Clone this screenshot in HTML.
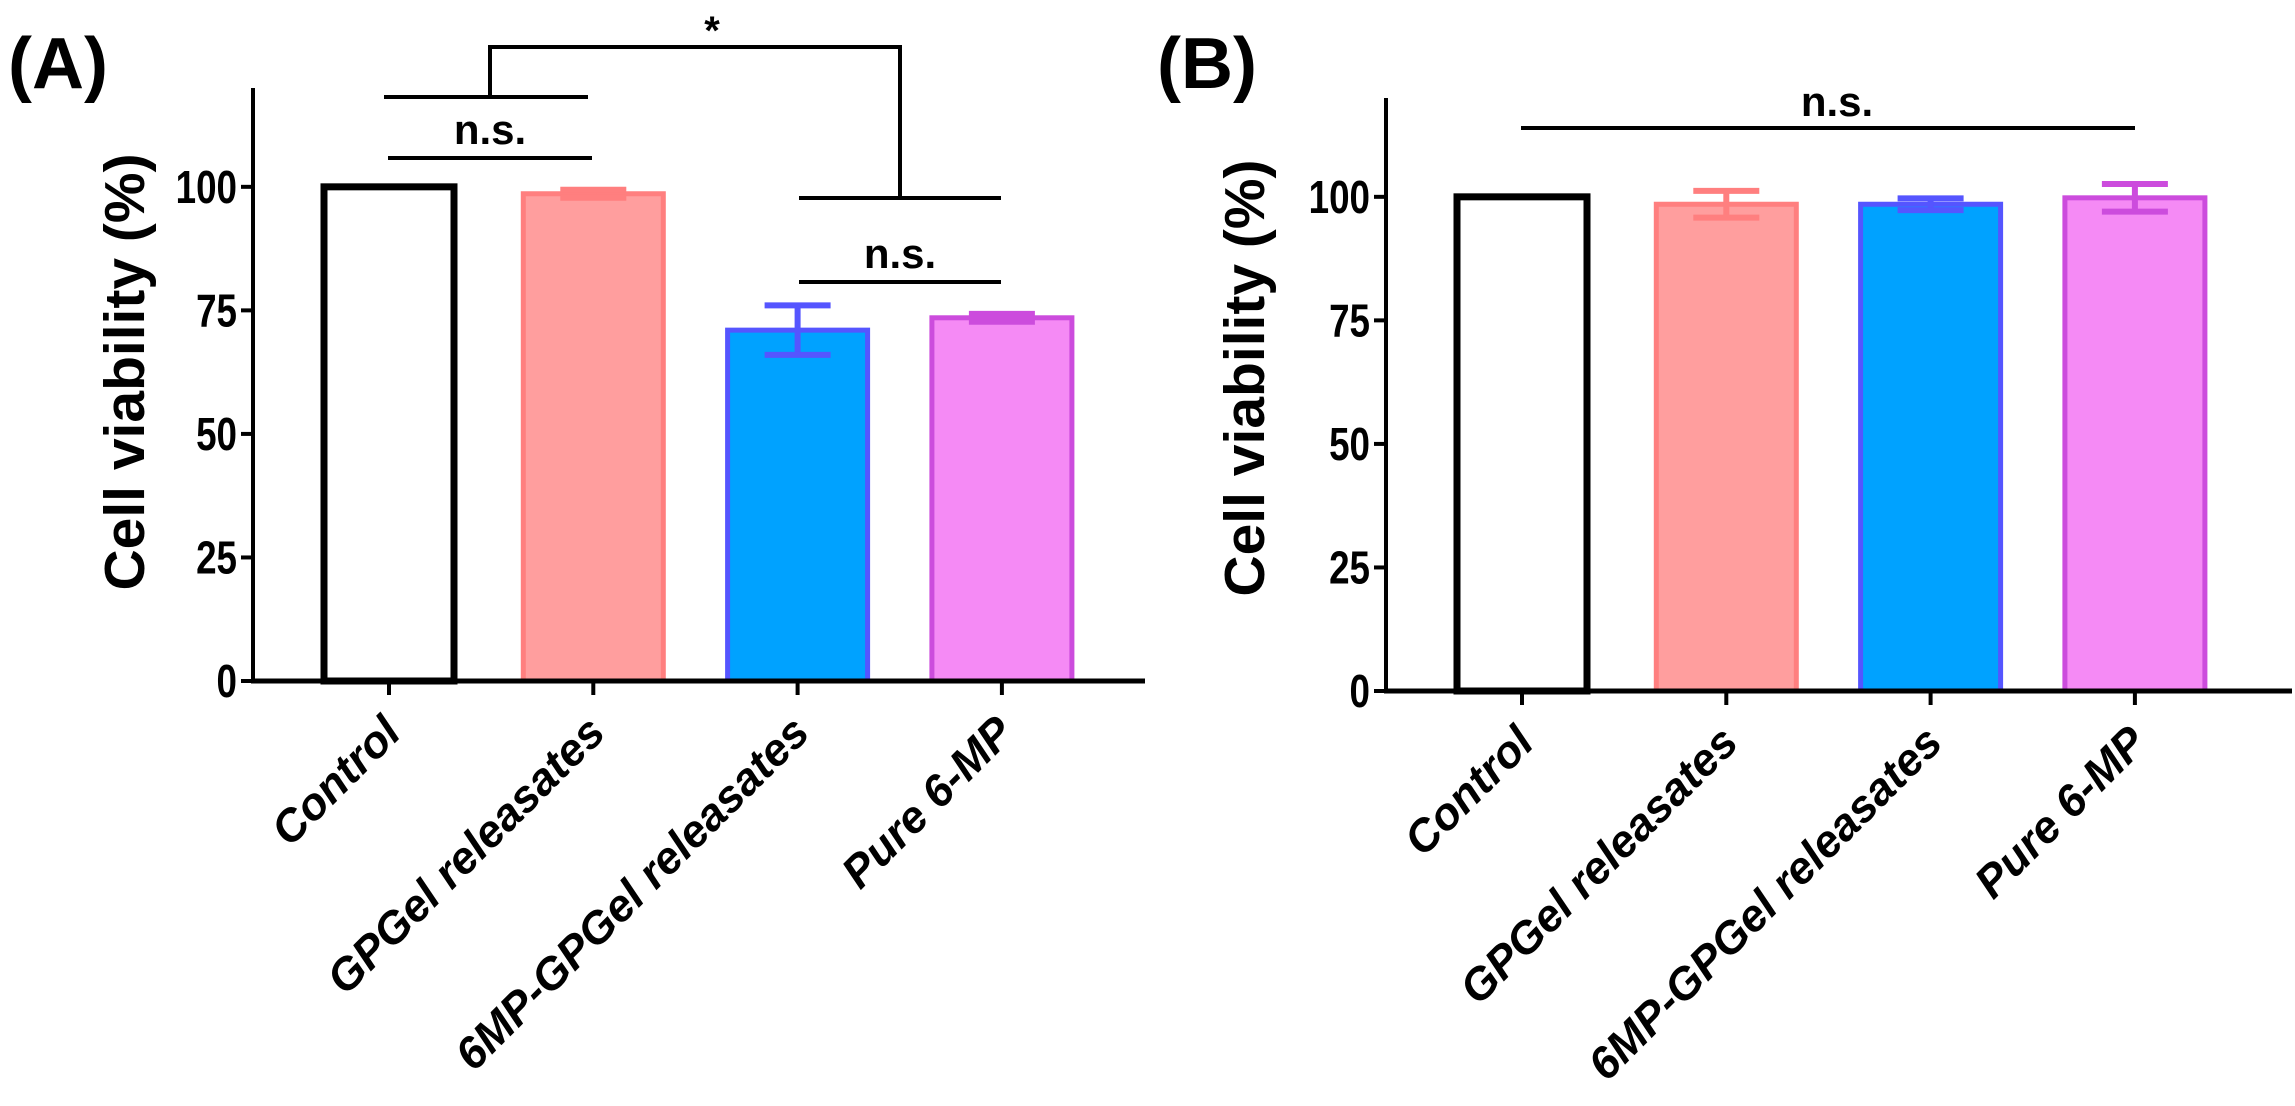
<!DOCTYPE html>
<html><head><meta charset="utf-8"><style>
html,body{margin:0;padding:0;background:#fff;}
svg{display:block;font-family:"Liberation Sans",Arial,sans-serif;}
</style></head><body>
<svg id="fig" width="2295" height="1106" viewBox="0 0 2295 1106" xmlns="http://www.w3.org/2000/svg"></svg>
<script>
const categories = ["Control","GPGel releasates","6MP-GPGel releasates","Pure 6-MP"];
const valuesA = [100, 98.6, 71, 73.5];
const errorsA = [0, 0.8, 5, 0.8];
const valuesB = [100, 98.5, 98.5, 99.8];
const errorsB = [0, 2.7, 1.2, 2.8];
const yTicks = [0, 25, 50, 75, 100];
const yMax = 120;

const fills = ["#ffffff","#ff9e9e","#00a2ff","#f58af5"];
const strokes = ["#000000","#ff7f7f","#5555ff","#cc4cdd"];
const NS = "http://www.w3.org/2000/svg";
const svg = document.getElementById('fig');
function mk(tag, attrs, parent, text){
  const e = document.createElementNS(NS, tag);
  for (const k in attrs) e.setAttribute(k, attrs[k]);
  if (text !== undefined) e.textContent = text;
  (parent||svg).appendChild(e);
  return e;
}

function panel(cfg){
  const g = mk('g', {});
  
  
  const yScale = v => cfg.y0 - v * (cfg.y0 - cfg.yTop) / yMax;
  const xScale = i => cfg.xFirst + i * cfg.step;
  cfg.values.forEach((v, i) => {
    const cx = xScale(i);
    const w = i === 0 ? 130 : 140;
    const sw = i === 0 ? 7 : 5;
    const r = mk('rect', {x: cx - w/2, y: yScale(v), width: w, height: cfg.y0 - yScale(v), fill: fills[i], stroke: strokes[i], 'stroke-width': sw}, g);
    
    
    const e = cfg.errors[i];
    if (e > 0) {
      const eb = mk('g', {stroke: strokes[i], 'stroke-width': 6, fill: 'none'}, g);
      
      
      mk('line', {x1: cx, x2: cx, y1: yScale(v + e), y2: yScale(v - e)}, eb);
      mk('line', {x1: cx - 33, x2: cx + 33, y1: yScale(v + e), y2: yScale(v + e)}, eb);
      mk('line', {x1: cx - 33, x2: cx + 33, y1: yScale(v - e), y2: yScale(v - e)}, eb);
    }
  });
  const ya = mk('line', {x1: cfg.xAxis, x2: cfg.xAxis, y1: cfg.yTop, y2: cfg.y0 + 2, stroke: '#000', 'stroke-width': 4}, g);
  
  
  const xa = mk('line', {x1: cfg.xAxis - 2, x2: cfg.xEnd, y1: cfg.y0, y2: cfg.y0, stroke: '#000', 'stroke-width': 5}, g);
  
  
  yTicks.forEach(t => {
    const y = yScale(t);
    mk('line', {x1: cfg.xAxis - 12, x2: cfg.xAxis, y1: y, y2: y, stroke: '#000', 'stroke-width': 4}, g);
    const tx = cfg.xAxis - 16;
    const tl = mk('text', {x: tx, y: y + 16, 'text-anchor': 'end', 'font-size': 46, 'font-weight': 'bold', transform: `translate(${tx},${y}) scale(0.8,1) translate(${-tx},${-y})`}, g, String(t));
    
    
  });
  categories.forEach((c, i) => {
    const x = xScale(i);
    mk('line', {x1: x, x2: x, y1: cfg.y0, y2: cfg.y0 + 14, stroke: '#000', 'stroke-width': 4}, g);
    const ax = x + 14, ay = cfg.y0 + 54;
    const tl = mk('text', {x: ax, y: ay, 'text-anchor': 'end', 'font-size': 45, 'font-weight': 'bold', 'font-style': 'italic', transform: `rotate(-45 ${ax} ${ay})`}, g, c);
    
    
  });
  const cy = cfg.labelCy;
  const yl = mk('text', {x: cfg.yLabelX, y: cy, 'text-anchor': 'middle', 'font-size': 57, 'font-weight': 'bold', transform: `rotate(-90 ${cfg.yLabelX} ${cy})`}, g, 'Cell viability (%)');
  
  
  const pl = mk('text', {x: cfg.labelX, y: 88, 'font-size': 72, 'font-weight': 'bold'}, g, cfg.label);
  
  
  return {g, yScale, xScale};
}

panel({name: 'panel-a', values: valuesA, errors: errorsA, xAxis: 253, xEnd: 1145, y0: 681, yTop: 88, xFirst: 389, step: 204.3, yLabelX: 144, labelCy: 372, labelX: 8, label: '(A)'});
panel({name: 'panel-b', values: valuesB, errors: errorsB, xAxis: 1386, xEnd: 2292, y0: 691, yTop: 98, xFirst: 1522, step: 204.3, yLabelX: 1264, labelCy: 378, labelX: 1157, label: '(B)'});

function line(x1,y1,x2,y2,name){
  const l = mk('line', {x1,y1,x2,y2, stroke:'#000','stroke-width':4});
  
  
}
function txt(x,y,s,name,size){
  const t = mk('text', {x, y, 'text-anchor':'middle','font-size':size||42,'font-weight':'bold'}, svg, s);
  
  
}
line(384,97,588,97,'sig-bracket-left-top');
line(388,158,592,158,'sig-line-ns-1');
txt(490,144,'n.s.','sig-label-ns-1');
line(799,198,1001,198,'sig-bracket-right-top');
line(799,282,1001,282,'sig-line-ns-2');
txt(900,268,'n.s.','sig-label-ns-2');
line(490,47,900,47,'sig-bracket-star');
line(490,45,490,97,'sig-bracket-star-left');
line(900,45,900,198,'sig-bracket-star-right');
txt(712,44,'*','sig-label-star',40);
line(1521,128,2135,128,'sig-line-ns-b');
txt(1837,116,'n.s.','sig-label-ns-b');
</script>
</body></html>
